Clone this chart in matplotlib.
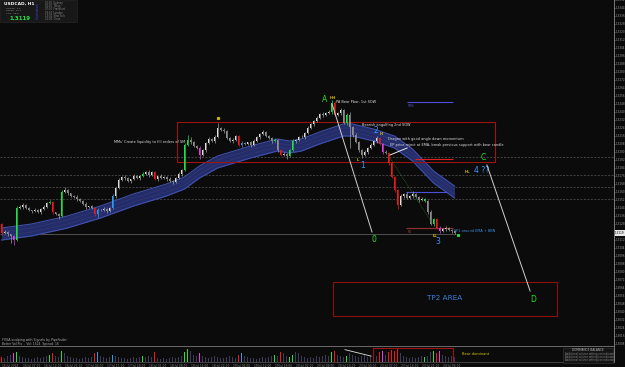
import numpy as np
import matplotlib.pyplot as plt
from matplotlib.patches import Rectangle
from matplotlib.ticker import MultipleLocator, FormatStrFormatter

# USDCAD H1 closes, one per candle
closes = [
    1.3119, 1.3120, 1.3118, 1.3116, 1.3112, 1.3144, 1.3145, 1.3147, 1.3144, 1.3142,
    1.3141, 1.3142, 1.3140, 1.3143, 1.3145, 1.3149, 1.3150, 1.3140, 1.3138, 1.3136,
    1.3160, 1.3162, 1.3159, 1.3156, 1.3155, 1.3153, 1.3151, 1.3148, 1.3145, 1.3146,
    1.3144, 1.3138, 1.3142, 1.3142, 1.3143, 1.3141, 1.3144, 1.3156, 1.3164, 1.3172,
    1.3175, 1.3174, 1.3171, 1.3173, 1.3176, 1.3174, 1.3176, 1.3178, 1.3180, 1.3177,
    1.3180, 1.3173, 1.3176, 1.3174, 1.3175, 1.3173, 1.3171, 1.3170, 1.3174, 1.3178,
    1.3182, 1.3207, 1.3212, 1.3210, 1.3206, 1.3204, 1.3197, 1.3202, 1.3209, 1.3213,
    1.3211, 1.3215, 1.3224, 1.3222, 1.3221, 1.3214, 1.3211, 1.3212, 1.3216, 1.3207,
    1.3209, 1.3208, 1.3210, 1.3207, 1.3211, 1.3215, 1.3218, 1.3220, 1.3216, 1.3214,
    1.3211, 1.3212, 1.3202, 1.3197, 1.3198, 1.3196, 1.3202, 1.3211, 1.3212, 1.3215,
    1.3215, 1.3219, 1.3224, 1.3228, 1.3231, 1.3234, 1.3238, 1.3237, 1.3239, 1.3240,
    1.3249, 1.3237, 1.3239, 1.3242, 1.3229, 1.3237, 1.3225, 1.3217, 1.3210, 1.3202,
    1.3197, 1.3200, 1.3204, 1.3207, 1.3211, 1.3214, 1.3208, 1.3200, 1.3199, 1.3189,
    1.3175, 1.3162, 1.3147, 1.3156, 1.3158, 1.3154, 1.3156, 1.3158, 1.3155, 1.3152,
    1.3153, 1.3151, 1.3140, 1.3128, 1.3133, 1.3124, 1.3121, 1.3123, 1.3124, 1.3122,
    1.3121, 1.3119,
]
first_open = 1.3128

wick_up = [
    1, 2, 1, 0, 1, 2, 2, 2, 1, 1, 0, 2, 1, 1, 2, 1, 2, 1, 0,
    1, 2, 3, 1, 0, 1, 2, 1, 1, 2, 0, 1, 1, 2, 1, 2, 1, 1, 2,
    1, 2, 1, 2, 1, 0, 2, 1, 1, 2, 1, 2, 1, 1, 0, 2, 1, 1, 2,
    1, 1, 2, 1, 2, 5, 3, 1, 1, 2, 1, 1, 2, 1, 2, 5, 1, 2, 1,
    1, 2, 1, 1, 2, 1, 0, 1, 2, 1, 1, 2, 1, 1, 1, 2, 1, 1, 2,
    1, 1, 2, 1, 1, 2, 1, 2, 1, 1, 2, 1, 2, 1, 2, 3, 2, 1, 2,
    1, 2, 3, 1, 2, 1, 1, 2, 1, 2, 1, 2, 1, 1, 2, 1, 1, 1, 1,
    2, 1, 2, 1, 3, 1, 1, 2, 1, 1, 2, 1, 1, 2, 1, 2, 1, 1, 1,
]
wick_dn = [
    2, 1, 2, 7, 5, 1, 1, 2, 1, 1, 2, 1, 1, 2, 1, 1, 1, 2, 1,
    3, 1, 1, 2, 1, 1, 2, 1, 1, 2, 1, 1, 2, 4, 1, 1, 2, 1, 1,
    2, 1, 1, 2, 1, 2, 1, 1, 2, 1, 1, 2, 1, 1, 2, 1, 1, 2, 1,
    2, 1, 1, 2, 1, 1, 2, 1, 1, 4, 1, 2, 1, 1, 2, 1, 1, 2, 1,
    1, 2, 1, 1, 2, 1, 1, 2, 1, 1, 2, 1, 1, 1, 2, 1, 2, 1, 1,
    3, 1, 1, 2, 1, 1, 2, 1, 1, 2, 1, 1, 2, 1, 1, 2, 1, 1, 2,
    1, 2, 21, 2, 1, 2, 3, 1, 2, 1, 1, 2, 1, 2, 1, 2, 1, 2, 4,
    1, 2, 1, 1, 2, 1, 2, 1, 1, 2, 1, 2, 1, 2, 1, 2, 1, 2, 1,
]

# signal candles: r=red, g=green, m=magenta, b=blue
signals = {0: 'r', 4: 'm', 5: 'g', 16: 'g', 17: 'r', 20: 'g', 31: 'r', 32: 'b',
           37: 'b', 47: 'g', 51: 'r', 61: 'g', 62: 'g', 66: 'm', 79: 'r', 80: 'b',
           91: 'g', 93: 'r', 96: 'g', 97: 'g', 110: 'g', 111: 'r', 115: 'g',
           126: 'r', 127: 'm', 129: 'r', 130: 'r', 131: 'r', 132: 'r', 141: 'g',
           144: 'g', 145: 'r', 146: 'm'}

volume = [
    5, 4, 6, 7, 8, 9, 6, 5, 4, 4, 3, 4, 5, 4, 5, 6, 7, 8, 6,
    5, 10, 8, 6, 5, 4, 4, 3, 4, 5, 4, 5, 8, 9, 6, 5, 4, 5, 7,
    6, 5, 4, 4, 3, 4, 5, 4, 5, 6, 5, 6, 5, 9, 4, 3, 4, 3, 4,
    5, 4, 5, 6, 9, 12, 10, 7, 6, 8, 6, 5, 4, 5, 6, 5, 4, 4, 5,
    6, 5, 4, 7, 8, 6, 5, 4, 4, 3, 4, 5, 4, 5, 6, 7, 6, 9, 8,
    6, 5, 7, 9, 8, 6, 5, 4, 5, 4, 6, 5, 6, 7, 6, 9, 10, 7, 6,
    5, 6, 8, 7, 6, 5, 6, 7, 5, 6, 5, 6, 9, 10, 7, 9, 11, 10, 12,
    8, 6, 5, 4, 5, 4, 5, 6, 5, 6, 9, 10, 8, 10, 7, 6, 5, 6, 5,
]

# EMA ribbon centre (candle index, price)
ema_idx = [0, 10, 22, 33, 44, 55, 61, 66, 72, 83, 92, 96, 100, 106, 114, 117,
           124, 131, 137, 144, 151]
ema_mid = [1.3118, 1.3122, 1.3130, 1.3140, 1.3152, 1.3162, 1.3169, 1.3180,
           1.3190, 1.3200, 1.3207, 1.3205, 1.3207, 1.3214, 1.3222, 1.3222,
           1.3217, 1.3210, 1.3197, 1.3175, 1.3160]

dashed_levels = [1.3195, 1.3177, 1.3165, 1.3153]
solid_level = 1.3118
last_price = 1.3119

date_labels = ["16 Jul 2018", "16 Jul 07:00", "16 Jul 14:00", "16 Jul 21:00",
               "17 Jul 04:00", "17 Jul 11:00", "17 Jul 18:00", "18 Jul 01:00",
               "18 Jul 08:00", "18 Jul 15:00", "18 Jul 22:00", "19 Jul 05:00",
               "19 Jul 12:00", "19 Jul 19:00", "20 Jul 02:00", "20 Jul 09:00",
               "20 Jul 16:00", "23 Jul 00:00", "23 Jul 07:00", "23 Jul 14:00",
               "23 Jul 21:00", "24 Jul 04:00"]

pip = 0.0001
bg = '#0b0b0b'
sigcol = {'r': '#f01818', 'g': '#22e044', 'm': '#e040e0', 'b': '#2a9df0'}
W, H = 625, 367

fig = plt.figure(figsize=(6.25, 3.67), dpi=100, facecolor=bg)
ax = fig.add_axes([0, 1 - 346 / H, 614 / W, 346 / H], facecolor=bg)
vax = fig.add_axes([0, 5 / H, 614 / W, 15 / H], facecolor=bg)

n = len(closes)
xlim = (-0.5, 614 / 3 - 0.5)

# grid levels
for lv in dashed_levels:
    ax.axhline(lv, color='#565656', lw=0.5, ls=(0, (3, 2)), zorder=0)
ax.hlines(solid_level, -0.5, n - 0.5, color='#5c5c5c', lw=0.6, zorder=0)

# EMA ribbon
em = np.array(ema_mid)
ax.fill_between(ema_idx, em - 6 * pip, em + 6 * pip, color='#242d6c', lw=0, zorder=1)
ax.plot(ema_idx, em + 6 * pip, color='#4050a8', lw=0.8, zorder=1)
ax.plot(ema_idx, em - 6 * pip, color='#4050a8', lw=0.8, zorder=1)
ax.plot(ema_idx, em + 2 * pip, color='#4a4a70', lw=0.3, ls=(0, (2, 1)), zorder=1)
ax.plot(ema_idx, em - 2 * pip, color='#4a4a70', lw=0.3, ls=(0, (2, 1)), zorder=1)

# candles
opens = [first_open] + closes[:-1]
for i in range(n):
    o, c = opens[i], closes[i]
    top, bot = max(o, c), min(o, c)
    if i in signals:
        col = sigcol[signals[i]]
        wcol = col
    else:
        col = '#dedede' if c >= o else '#8e8e8e'
        wcol = '#a0a0a0'
    ax.vlines(i, bot - wick_dn[i] * pip, top + wick_up[i] * pip, color=wcol, lw=0.5, zorder=3)
    ax.bar(i, max(top - bot, 0.4 * pip), bottom=bot, width=0.6, color=col, lw=0, zorder=3)

# zones
ax.add_patch(Rectangle((58.5, 1.3190), 106, 0.0040, fill=False, ec='#9a1414', lw=0.8, zorder=2))
ax.add_patch(Rectangle((110.5, 1.3036), 74.7, 0.0034, fill=False, ec='#8a1010', lw=0.8, zorder=2))
ax.text(147.8, 1.3054, 'TP2 AREA', color='#3a80d8', fontsize=5.2, ha='center', va='center')

# wave lines
ax.plot([110.2, 123.5], [1.3248, 1.3120], color='#d0d0d0', lw=0.7, zorder=4)
ax.plot([161.8, 176.2], [1.3187, 1.3061], color='#d0d0d0', lw=0.7, zorder=4)
ax.plot([129.5, 135.2], [1.3197, 1.3204], color='#e8e8e8', lw=0.7, zorder=4)
ax.plot([129.5, 143.5], [1.3194, 1.3129], color='#2a7a2a', lw=0.5, ls=(0, (1, 1)), zorder=4)

# level segments
ax.hlines(1.3250, 135.2, 150.5, color='#4f4fd8', lw=0.8)
ax.hlines(1.3160, 134.8, 148.5, color='#4f4fd8', lw=0.8)
ax.hlines(1.3193, 137.8, 150.5, color='#e02020', lw=0.8)
ax.hlines(1.3124, 134.8, 150.5, color='#8a3030', lw=0.9)
ax.text(135.5, 1.3248, '50%', color='#5a5ae0', fontsize=2.2, va='top')
ax.text(135.5, 1.3122, 'R4', color='#aa4444', fontsize=2.2, va='top')
ax.plot(152.2, 1.3117, 's', color='#22e044', ms=1.2)
ax.plot(72.2, 1.3234, 's', color='#c8b400', ms=1.3)

# wave labels
big = dict(fontsize=5.5, ha='center', va='center')
ax.text(107.8, 1.3252, 'A', color='#22e022', **big)
ax.text(160.5, 1.3195, 'C', color='#22e022', **big)
ax.text(177.2, 1.3053, 'D', color='#22e022', **big)
ax.text(124.2, 1.3112, '0', color='#22e022', **big)
ax.text(124.8, 1.3221, '2', color='#3399ff', **big)
ax.text(120.2, 1.3186, '1', color='#3399ff', **big)
ax.text(145.5, 1.3110, '3', color='#3399ff', **big)
ax.text(157.5, 1.3181, '4 ??', color='#3399ff', fontsize=5.5, ha='left', va='center')

small_y = dict(fontsize=2.6, color='#d4c000', ha='center', va='center', fontweight='bold')
ax.text(110.5, 1.3254, 'HH', **small_y)
ax.text(126.5, 1.3218, 'H', **small_y)
ax.text(118.8, 1.3192, 'L', **small_y)
ax.text(155.2, 1.3180, 'HL', **small_y)
ax.text(144.5, 1.3116, 'LL', **small_y)

note = dict(fontsize=2.5, color='#e0e0e0', ha='left', va='center')
ax.text(111.6, 1.3250, 'PA Bear Pbar, 1st SOW', **note)
ax.text(120.2, 1.3227, 'Bearish engulfing 2nd SOW', **note)
ax.text(128.8, 1.3213, 'Dragon with good angle down momentum', **note)
ax.text(129.5, 1.3207, 'EP price reject at EMA, break previous support with bear candle', **note)
ax.text(37.5, 1.3210, "MMs' Create liquidity to fill orders of SM", **note)
ax.text(150.8, 1.3121, 'FP1 around EMA + BBN', fontsize=2.5, color='#3a90e0', ha='left', va='center')

# price axis
ax.set_xlim(*xlim)
ax.set_ylim(1.3006, 1.3352)
ax.yaxis.tick_right()
ax.yaxis.set_major_locator(MultipleLocator(0.0008))
ax.yaxis.set_major_formatter(FormatStrFormatter('%.4f'))
ax.tick_params(axis='y', labelsize=2.0, colors='#9a9a9a', length=1, width=0.4, pad=0.6)
ax.tick_params(axis='x', bottom=False, labelbottom=False)
for s in ['left', 'top']:
    ax.spines[s].set_visible(False)
ax.spines['right'].set_color('#8a8a8a')
ax.spines['right'].set_linewidth(0.6)
ax.spines['bottom'].set_color('#7a7a7a')
ax.spines['bottom'].set_linewidth(0.6)
ax.text(1.002, last_price, '%.4f' % last_price, transform=ax.get_yaxis_transform(),
        fontsize=2.0, color='#000000', va='center', ha='left', zorder=10,
        bbox=dict(boxstyle='square,pad=0.25', fc='#e8e8e8', ec='none'))

ax.text(0.003, 0.012, 'FVSA scalping with Signals by Pipsfinder', transform=ax.transAxes,
        fontsize=2.3, color='#aaaaaa', va='bottom')

# volume panel
vcols = [sigcol[signals[i]] if i in signals else '#3c3c58' for i in range(n)]
vax.bar(np.arange(n), volume, width=0.6, color=vcols, lw=0)
vax.add_patch(Rectangle((123.8, 0.2), 26.7, 12.6, fill=False, ec='#9a1414', lw=0.8))
vax.plot([114.5, 123.2], [11.5, 5.5], color='#e0e0e0', lw=0.6)
vax.text(153.5, 7.5, 'Bear dominant', color='#d0c800', fontsize=2.6, va='center')
vax.text(0.003, 1.04, 'Better Vol Pro  - Vol: 1524  Spread: 16', transform=vax.transAxes,
         fontsize=2.2, color='#aaaaaa', va='bottom')
vax.set_xlim(*xlim)
vax.set_ylim(0, 14)
vax.set_yticks([])
vax.set_xticks(np.arange(0, 7 * len(date_labels), 7))
vax.set_xticklabels(date_labels, ha='left')
vax.tick_params(axis='x', labelsize=2.1, colors='#8a8a8a', length=1, width=0.3, pad=0.3)
for s in ['left', 'top']:
    vax.spines[s].set_visible(False)
vax.spines['right'].set_color('#8a8a8a')
vax.spines['right'].set_linewidth(0.6)
vax.spines['bottom'].set_color('#5a5a5a')
vax.spines['bottom'].set_linewidth(0.5)

# info box bottom right
fig.add_artist(Rectangle((563 / W, 1 - 363 / H), 50 / W, 15 / H, transform=fig.transFigure,
                         fc='#141414', ec='#3a3a3a', lw=0.4))
fig.text(588 / W, 1 - 350 / H, 'DOMINANCE BALANCE', fontsize=2.1, color='#bbbbbb',
         ha='center', va='center')
for k, t in enumerate(['Additional volume settings on indicator',
                       'Additional volume settings on indicator',
                       'Additional volume settings on indicator']):
    fig.text(565 / W, 1 - (354 + 3 * k) / H, t, fontsize=1.8, color='#8a8a8a', va='center')

# info box top left
fig.add_artist(Rectangle((0, 1 - 22 / H), 77 / W, 22 / H, transform=fig.transFigure,
                         fc='#181818', ec='#2a2a2a', lw=0.4))
fig.text(4 / W, 1 - 4 / H, 'USDCAD, H1', fontsize=3.2, color='#ffffff', fontweight='bold', va='center')
for k, t in enumerate(['Spread:  1.6', 'Range:  22.4', 'ADR:  68.0']):
    fig.text(6 / W, 1 - (8 + 2.6 * k) / H, t, fontsize=1.7, color='#9a9a9a', va='center')
fig.text(9 / W, 1 - 18.5 / H, '%.4f' % last_price, fontsize=4.0, color='#22e044',
         fontweight='bold', va='center')
fig.text(38 / W, 1 - 11 / H, 'Countdown', fontsize=2.2, color='#3a4ad0', rotation=90,
         va='center', ha='center')
for k, t in enumerate(['00:00  Sydney', '02:00  Tokyo', '07:00  Frankfurt', '08:00  London',
                       '13:00  New York', '21:00  Close']):
    fig.text(45 / W, 1 - (3 + 3.2 * k) / H, t, fontsize=1.8, color='#8a8a8a', va='center')

fig.savefig('out.png', dpi=100, facecolor=bg)
